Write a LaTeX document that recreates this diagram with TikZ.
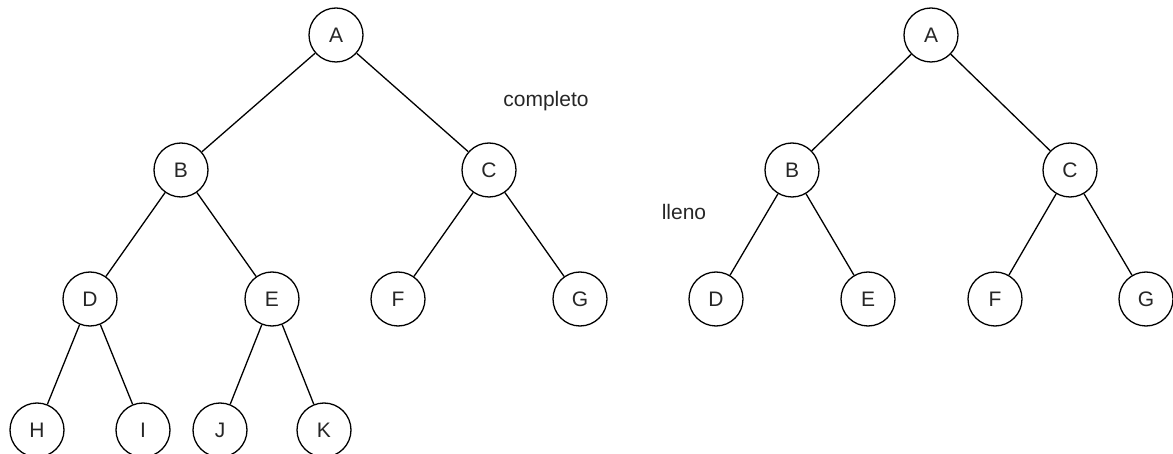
\documentclass[tikz,border=0pt]{standalone}
\usepackage{fontspec}
\setmainfont{Liberation Sans}
\begin{document}
\begin{tikzpicture}[x=1pt,y=-1pt,
  tnode/.style={circle,draw=black,line width=1.3pt,minimum size=54pt,inner sep=0pt,
    font=\fontsize{21}{25}\selectfont,text=black!85},
  edge/.style={draw=black,line width=1.3pt},
  lbl/.style={font=\fontsize{21}{25}\selectfont,text=black!85,inner sep=0pt}]
\useasboundingbox (0,0) rectangle (1173,454);
% left tree
\node[tnode] (A) at (336,35) {A};
\node[tnode] (B) at (181,170) {B};
\node[tnode] (C) at (489,170) {C};
\node[tnode] (D) at (90,299) {D};
\node[tnode] (E) at (272,299) {E};
\node[tnode] (F) at (398,299) {F};
\node[tnode] (G) at (580,299) {G};
\node[tnode] (H) at (37,430) {H};
\node[tnode] (I) at (143,430) {I};
\node[tnode] (J) at (220,430) {J};
\node[tnode] (K) at (324,430) {K};
\draw[edge] (A) -- (B);
\draw[edge] (A) -- (C);
\draw[edge] (B) -- (D);
\draw[edge] (B) -- (E);
\draw[edge] (C) -- (F);
\draw[edge] (C) -- (G);
\draw[edge] (D) -- (H);
\draw[edge] (D) -- (I);
\draw[edge] (E) -- (J);
\draw[edge] (E) -- (K);
% right tree
\node[tnode] (A2) at (931,35) {A};
\node[tnode] (B2) at (792,170) {B};
\node[tnode] (C2) at (1070,170) {C};
\node[tnode] (D2) at (716,299) {D};
\node[tnode] (E2) at (868,299) {E};
\node[tnode] (F2) at (995,299) {F};
\node[tnode] (G2) at (1146,299) {G};
\draw[edge] (A2) -- (B2);
\draw[edge] (A2) -- (C2);
\draw[edge] (B2) -- (D2);
\draw[edge] (B2) -- (E2);
\draw[edge] (C2) -- (F2);
\draw[edge] (C2) -- (G2);
% labels
\node[lbl,anchor=base] (completo) at (546,107) {completo};
\node[lbl,anchor=base] (lleno) at (684,220) {lleno};
\end{tikzpicture}
\end{document}
